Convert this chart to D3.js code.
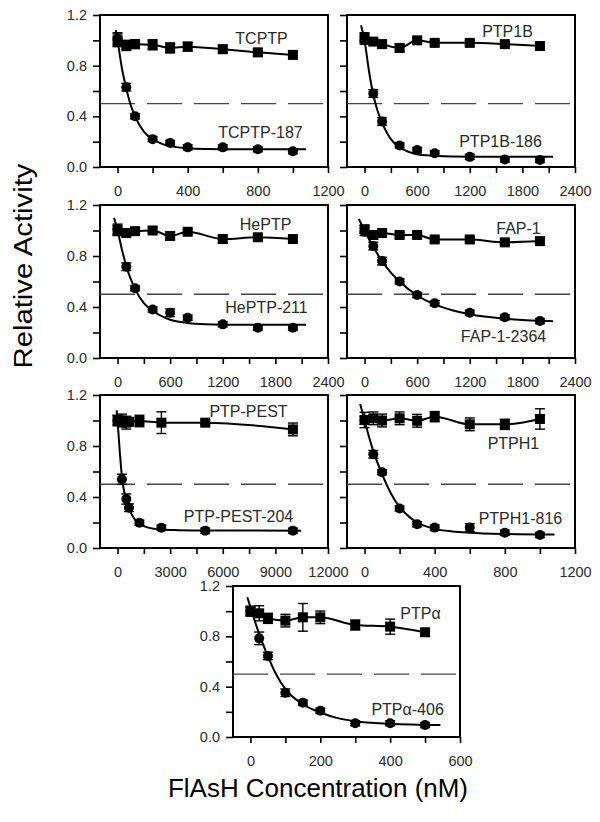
<!DOCTYPE html>
<html><head><meta charset="utf-8">
<script src="https://cdn.jsdelivr.net/npm/d3@7"></script>
<style>body{margin:0;background:#fff}text{font-family:"Liberation Sans",Arial,sans-serif}</style>
</head><body><svg id="c" width="600" height="822"></svg>
<script>
// ---------- data ----------
const yTickLabels = [0, 0.4, 0.8, 1.2];
const yMinorTicks = [0.2, 0.6, 1.0];

// TCPTP
const tcptpConc = [0,50,100,200,300,400,600,800,1000];
const tcptpAct = [1.00,0.96,0.97,0.965,0.94,0.95,0.93,0.905,0.885];
const tcptpErr = [0.05,0.04,0.035,0.04,0.04,0.035,0.03,0.03,0.03];
const tcptp187Act = [1.01,0.63,0.40,0.22,0.19,0.155,0.155,0.14,0.125];
const tcptp187Err = [0.05,0.03,0.02,0.02,0.02,0.02,0.02,0.02,0.02];
const tcptp187FitConc = [-10,0,25,50,75,100,150,200,250,300,400,500,700,1075];
const tcptp187FitAct = [1.08,1.00,0.78,0.62,0.49,0.40,0.28,0.22,0.185,0.165,0.148,0.142,0.14,0.14];

// PTP1B
const ptp1bConc = [0,100,200,400,600,800,1200,1600,2000];
const ptp1bAct = [1.02,0.99,0.97,0.94,1.00,0.98,0.98,0.97,0.955];
const ptp1bErr = [0.04,0.02,0.03,0.03,0.02,0.02,0.02,0.02,0.02];
const ptp1b186Act = [1.0,0.58,0.36,0.17,0.134,0.108,0.08,0.06,0.055];
const ptp1b186Err = [0.03,0.03,0.03,0.02,0.02,0.02,0.02,0.02,0.02];
const ptp1b186FitConc = [-40,0,50,100,150,200,300,400,500,600,800,1000,1400,2150];
const ptp1b186FitAct = [1.12,1.0,0.76,0.57,0.44,0.35,0.22,0.155,0.12,0.10,0.088,0.082,0.08,0.08];

// HePTP
const heptpConc = [0,100,200,400,600,800,1200,1600,2000];
const heptpAct = [1.0,0.98,0.995,1.0,0.957,0.99,0.933,0.947,0.933];
const heptpErr = [0.04,0.02,0.02,0.02,0.03,0.02,0.03,0.02,0.02];
const heptp211Act = [1.01,0.716,0.547,0.38,0.355,0.316,0.264,0.238,0.238];
const heptp211Err = [0.04,0.03,0.02,0.02,0.03,0.02,0.02,0.02,0.02];
const heptp211FitConc = [-40,0,50,100,150,200,300,400,600,800,1000,1400,2150];
const heptp211FitAct = [1.10,1.0,0.85,0.72,0.62,0.54,0.43,0.37,0.30,0.275,0.265,0.26,0.26];

// FAP-1
const fap1Conc = [0,100,200,400,600,800,1200,1600,2000];
const fap1Act = [1.01,0.965,0.98,0.965,0.965,0.93,0.93,0.907,0.917];
const fap1Err = [0.03,0.03,0.02,0.02,0.02,0.02,0.02,0.02,0.02];
const fap12364Act = [0.99,0.878,0.76,0.60,0.494,0.43,0.355,0.319,0.29];
const fap12364Err = [0.03,0.03,0.03,0.02,0.02,0.02,0.02,0.02,0.02];
const fap12364FitConc = [-65,0,100,200,300,400,600,800,1000,1200,1600,2000,2150];
const fap12364FitAct = [1.09,1.0,0.87,0.76,0.67,0.60,0.49,0.42,0.375,0.343,0.308,0.292,0.289];

// PTP-PEST
const pestConc = [0,250,500,650,1250,2500,5000,10000];
const pestAct = [1.0,1.0,0.983,0.99,0.996,0.983,0.983,0.93];
const pestErr = [0.04,0.05,0.05,0.03,0.045,0.085,0.02,0.05];
const pest204Act = [1.0,0.539,0.384,0.316,0.198,0.159,0.136,0.136];
const pest204Err = [0.04,0.04,0.04,0.03,0.02,0.02,0.02,0.02];
const pest204FitConc = [-50,0,125,250,500,650,1000,1250,1750,2500,3500,5000,10470];
const pest204FitAct = [1.08,1.0,0.76,0.56,0.37,0.31,0.22,0.19,0.16,0.145,0.14,0.137,0.136];

// PTPH1
const ptph1Conc = [0,50,100,200,300,400,600,800,1000];
const ptph1Act = [1.004,1.017,1.0,1.017,0.998,1.03,0.97,0.97,1.012];
const ptph1Err = [0.06,0.05,0.05,0.05,0.05,0.04,0.05,0.04,0.08];
const ptph1816Act = [1.0,0.735,0.594,0.31,0.186,0.16,0.16,0.12,0.102];
const ptph1816Err = [0.03,0.03,0.02,0.02,0.02,0.02,0.03,0.02,0.02];
const ptph1816FitConc = [-25,0,50,100,150,200,250,300,400,500,600,800,1083];
const ptph1816FitAct = [1.13,1.0,0.76,0.58,0.43,0.32,0.25,0.20,0.15,0.13,0.12,0.11,0.105];

// PTPalpha
const ptpaConc = [0,25,50,100,150,200,300,400,500];
const ptpaAct = [1.0,0.983,0.943,0.925,0.951,0.951,0.89,0.877,0.832];
const ptpaErr = [0.04,0.06,0.04,0.05,0.11,0.05,0.04,0.06,0.03];
const ptpa406Act = [1.0,0.784,0.644,0.352,0.273,0.209,0.109,0.109,0.095];
const ptpa406Err = [0.03,0.05,0.03,0.03,0.02,0.02,0.02,0.02,0.02];
const ptpa406FitConc = [-9,0,25,50,75,100,150,200,250,300,400,544];
const ptpa406FitAct = [1.11,1.03,0.82,0.64,0.49,0.38,0.26,0.195,0.15,0.125,0.105,0.095];

// ---------- layout ----------
const zip = (xs, ys, es) => xs.map((x, i) => ({x, y: ys[i], e: es ? es[i] : 0}));
const panels = [
  {left:100,right:328,top:15,bottom:167,xDomain:[-100,1200],major:[0,400,800,1200],minor:[200,600,1000],yLabels:true,
   ctrl:zip(tcptpConc,tcptpAct,tcptpErr),inh:zip(tcptpConc,tcptp187Act,tcptp187Err),fit:zip(tcptp187FitConc,tcptp187FitAct),
   lab1:["TCPTP",821,0.971],lab2:["TCPTP-187",815,0.229]},
  {left:347,right:575,top:15,bottom:167,xDomain:[-200,2400],major:[0,600,1200,1800,2400],minor:[300,900,1500,2100],yLabels:false,
   ctrl:zip(ptp1bConc,ptp1bAct,ptp1bErr),inh:zip(ptp1bConc,ptp1b186Act,ptp1b186Err),fit:zip(ptp1b186FitConc,ptp1b186FitAct),
   lab1:["PTP1B",1630,1.026],lab2:["PTP1B-186",1551,0.158]},
  {left:100,right:328,top:205,bottom:358,xDomain:[-200,2400],major:[0,600,1200,1800,2400],minor:[300,900,1500,2100],yLabels:true,
   ctrl:zip(heptpConc,heptpAct,heptpErr),inh:zip(heptpConc,heptp211Act,heptp211Err),fit:zip(heptp211FitConc,heptp211FitAct),
   lab1:["HePTP",1688,1.004],lab2:["HePTP-211",1699,0.353]},
  {left:347,right:575,top:205,bottom:358,xDomain:[-200,2400],major:[0,600,1200,1800,2400],minor:[300,900,1500,2100],yLabels:false,
   ctrl:zip(fap1Conc,fap1Act,fap1Err),inh:zip(fap1Conc,fap12364Act,fap12364Err),fit:zip(fap12364FitConc,fap12364FitAct),
   lab1:["FAP-1",1756,0.973],lab2:["FAP-1-2364",1585,0.125]},
  {left:100,right:328,top:395,bottom:548,xDomain:[-1000,12000],major:[0,3000,6000,9000,12000],minor:[1500,4500,7500,10500],yLabels:true,
   ctrl:zip(pestConc,pestAct,pestErr),inh:zip(pestConc,pest204Act,pest204Err),fit:zip(pest204FitConc,pest204FitAct),
   lab1:["PTP-PEST",7469,1.027],lab2:["PTP-PEST-204",6899,0.204]},
  {left:347,right:575,top:395,bottom:548,xDomain:[-100,1200],major:[0,400,800,1200],minor:[200,600,1000],yLabels:false,
   ctrl:zip(ptph1Conc,ptph1Act,ptph1Err),inh:zip(ptph1Conc,ptph1816Act,ptph1816Err),fit:zip(ptph1816FitConc,ptph1816FitAct),
   lab1:["PTPH1",849,0.776],lab2:["PTPH1-816",889,0.188]},
  {left:233,right:460,top:586,bottom:737,xDomain:[-50,600],major:[0,200,400,600],minor:[100,300,500],yLabels:true,
   ctrl:zip(ptpaConc,ptpaAct,ptpaErr),inh:zip(ptpaConc,ptpa406Act,ptpa406Err),fit:zip(ptpa406FitConc,ptpa406FitAct),
   lab1:["PTP\u03B1",487,0.938],lab2:["PTP\u03B1-406",450,0.175]}
];

const svg = d3.select("#c");
svg.append("rect").attr("width",600).attr("height",822).attr("fill","#fff");

panels.forEach(p => {
  const x = d3.scaleLinear().domain(p.xDomain).range([p.left, p.right]);
  const y = d3.scaleLinear().domain([0, 1.2]).range([p.bottom, p.top]);
  const g = svg.append("g");

  // x axis
  g.append("g").attr("transform", `translate(0,${p.bottom})`)
    .call(d3.axisBottom(x).tickValues(p.major).tickSize(6).tickPadding(12.5).tickFormat(d3.format("d")));
  g.append("g").attr("transform", `translate(0,${p.bottom})`)
    .call(d3.axisBottom(x).tickValues(p.minor).tickSize(6).tickFormat(""));
  // y axis
  g.append("g").attr("transform", `translate(${p.left},0)`)
    .call(d3.axisLeft(y).tickValues(yTickLabels).tickSize(7).tickPadding(6)
      .tickFormat(p.yLabels ? d3.format(".1f") : ""));
  g.append("g").attr("transform", `translate(${p.left},0)`)
    .call(d3.axisLeft(y).tickValues(yMinorTicks).tickSize(7).tickFormat(""));
  g.selectAll(".domain").remove();
  g.selectAll(".tick line").attr("stroke", "#000").attr("stroke-width", 1.6);
  g.selectAll(".tick text").attr("font-size", 14.5).attr("fill", "#2a2a2a")
    .attr("font-family", '"Liberation Sans", Arial, sans-serif');

  // frame
  g.append("rect").attr("x", p.left).attr("y", p.top)
    .attr("width", p.right - p.left).attr("height", p.bottom - p.top)
    .attr("fill", "none").attr("stroke", "#000").attr("stroke-width", 2);

  // dashed 50% line
  g.append("line").attr("x1", p.left).attr("x2", p.right)
    .attr("y1", y(0.5)).attr("y2", y(0.5))
    .attr("stroke", "#444").attr("stroke-width", 1.3).attr("stroke-dasharray", "35,12");

  // lines
  const line = d3.line().x(d => x(d.x)).y(d => y(d.y)).curve(d3.curveMonotoneX);
  g.append("path").datum(p.ctrl).attr("d", line).attr("fill", "none").attr("stroke", "#000").attr("stroke-width", 2);
  g.append("path").datum(p.fit).attr("d", line).attr("fill", "none").attr("stroke", "#000").attr("stroke-width", 2);

  // error bars
  [p.ctrl, p.inh].forEach(series => {
    const eb = g.append("g").attr("stroke", "#000").attr("stroke-width", 1.4);
    series.forEach(d => {
      eb.append("line").attr("x1", x(d.x)).attr("x2", x(d.x)).attr("y1", y(d.y - d.e)).attr("y2", y(d.y + d.e));
      eb.append("line").attr("x1", x(d.x) - 5).attr("x2", x(d.x) + 5).attr("y1", y(d.y - d.e)).attr("y2", y(d.y - d.e));
      eb.append("line").attr("x1", x(d.x) - 5).attr("x2", x(d.x) + 5).attr("y1", y(d.y + d.e)).attr("y2", y(d.y + d.e));
    });
  });

  // markers
  g.selectAll(null).data(p.inh).enter().append("circle")
    .attr("cx", d => x(d.x)).attr("cy", d => y(d.y)).attr("r", 5).attr("fill", "#000");
  g.selectAll(null).data(p.ctrl).enter().append("rect")
    .attr("x", d => x(d.x) - 5).attr("y", d => y(d.y) - 5).attr("width", 10).attr("height", 10).attr("fill", "#000");

  // series labels
  [p.lab1, p.lab2].forEach(l => {
    g.append("text").attr("x", x(l[1])).attr("y", y(l[2])).attr("text-anchor", "middle")
      .attr("font-size", 16).attr("fill", "#2a2a2a").text(l[0]);
  });
});

// axis titles
svg.append("text").attr("transform", "translate(32,266) rotate(-90)").attr("text-anchor", "middle")
  .attr("font-size", 25).attr("fill", "#000").attr("textLength", 205).attr("lengthAdjust", "spacingAndGlyphs")
  .text("Relative Activity");
svg.append("text").attr("x", 168).attr("y", 797)
  .attr("font-size", 25).attr("fill", "#000").attr("textLength", 300).attr("lengthAdjust", "spacingAndGlyphs")
  .text("FlAsH Concentration (nM)");
</script></body></html>
